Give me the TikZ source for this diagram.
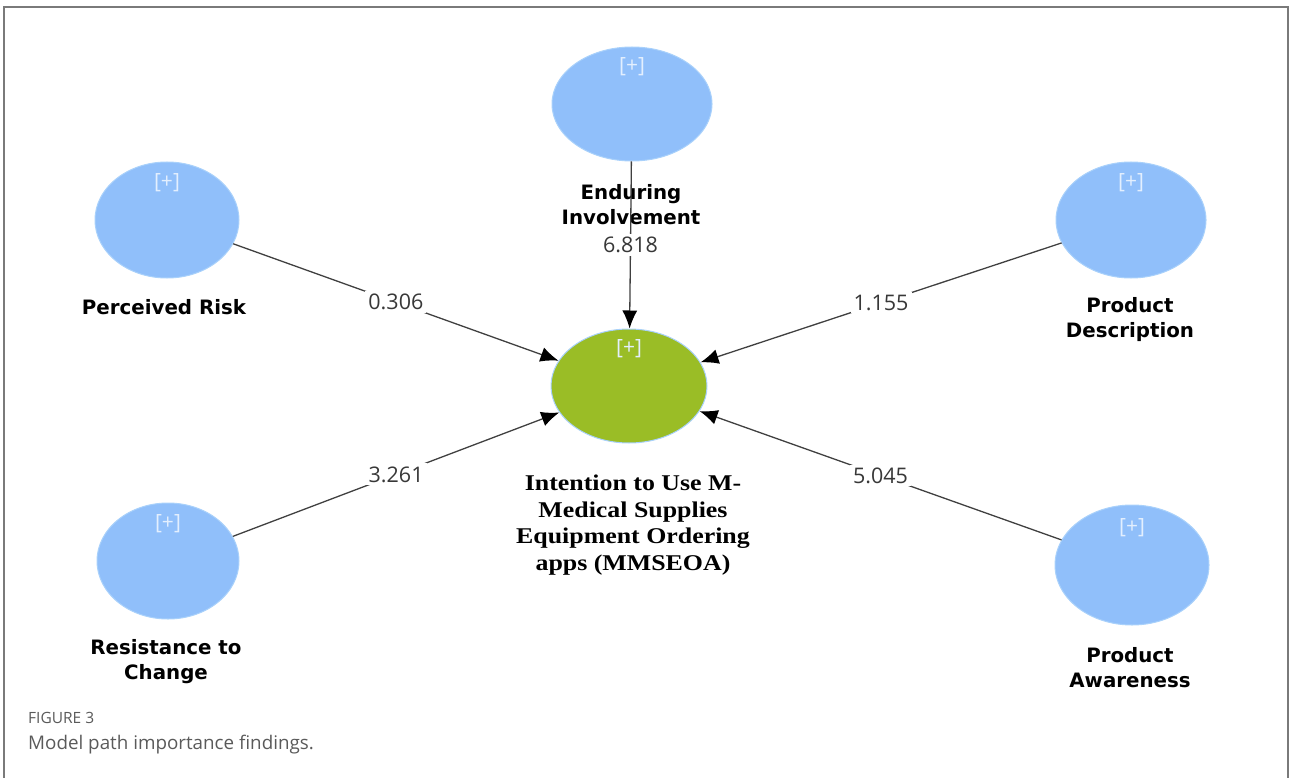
\documentclass[tikz,border=0pt]{standalone}
\usepackage{fontspec}
\usepackage{tikz}
\usetikzlibrary{arrows.meta,shapes.geometric}
\newfontfamily\labelfont{DejaVu Sans}
\newfontfamily\numfont{Open Sans}
\newfontfamily\serifbold[FakeStretch=1.15]{Liberation Serif}
\definecolor{latblue}{HTML}{90BFFA}
\definecolor{latedge}{HTML}{A9D1FB}
\definecolor{depgreen}{HTML}{9ABD26}
\definecolor{frame}{HTML}{7A7A7A}
\definecolor{capgray}{HTML}{5A5A5A}
\tikzset{
 construct/.style={ellipse,fill=latblue,draw=latedge,line width=1pt,inner sep=0pt},
 plus/.style={label={[text=white!75!latblue,font=\numfont\fontsize{21}{21}\selectfont,yshift=37pt]center:{[+]}}},
 pathline/.style={-{Latex[length=18pt,width=15pt,black]},draw=black!75,line width=1.3pt},
 coef/.style={fill=white,font=\numfont\fontsize{21.5}{21.5}\selectfont,text=black!78,inner sep=3pt},
 conname/.style={align=center,font=\labelfont\bfseries\fontsize{19.8}{25}\selectfont}
}

\begin{document}
\begin{tikzpicture}[x=1pt,y=-1pt,>=Latex]
 \useasboundingbox (0,0) rectangle (1290,778);
 \draw[frame,line width=1.5pt] (4,778) -- (4,7) -- (1288,7) -- (1288,778);
 % constructs
 \node[construct,plus,minimum width=160pt,minimum height=114pt] (ei) at (632,104) {};
 \node[construct,plus,minimum width=144pt,minimum height=116pt] (pr) at (167,220) {};
 \node[construct,plus,minimum width=150pt,minimum height=116pt] (pd) at (1131,220) {};
 \node[construct,plus,minimum width=142pt,minimum height=116pt] (rc) at (168,561) {};
 \node[construct,plus,minimum width=154pt,minimum height=120pt] (pa) at (1132,565) {};
 \node[construct,plus,fill=depgreen,draw=latedge,minimum width=156pt,minimum height=114pt] (iu) at (629,386) {};
 % names
 \node[conname] (prl) at (164,307) {Perceived Risk};
 \node[conname] (eil) at (631,205) {Enduring\\Involvement};
 \node[conname] (pdl) at (1130,320) {Product\\Description};
 \node[conname] (rcl) at (166,662) {Resistance to\\Change};
 \node[conname] (pal) at (1130,668) {Product\\Awareness};
 \node[align=center,font=\serifbold\bfseries\fontsize{22.5}{26.5}\selectfont] (iul) at (633,525)
  {Intention to Use M-\\Medical Supplies\\Equipment Ordering\\apps (MMSEOA)};
 % paths
 \draw[pathline] (pr) -- node[coef]{0.306} (iu);
 \draw[pathline] (ei) -- node[coef]{6.818} (iu);
 \draw[pathline] (pd) -- node[coef]{1.155} (iu);
 \draw[pathline] (rc) -- node[coef]{3.261} (iu);
 \draw[pathline] (pa) -- node[coef]{5.045} (iu);
 % caption
 \node[anchor=west,inner sep=0pt,font=\numfont\fontsize{15.5}{16}\selectfont,text=capgray] (fig) at (28,718) {FIGURE 3};
 \node[anchor=west,inner sep=0pt,font=\numfont\fontsize{18.8}{20}\selectfont,text=capgray] (cap) at (28,745) {Model path importance findings.};
\end{tikzpicture}
\end{document}
